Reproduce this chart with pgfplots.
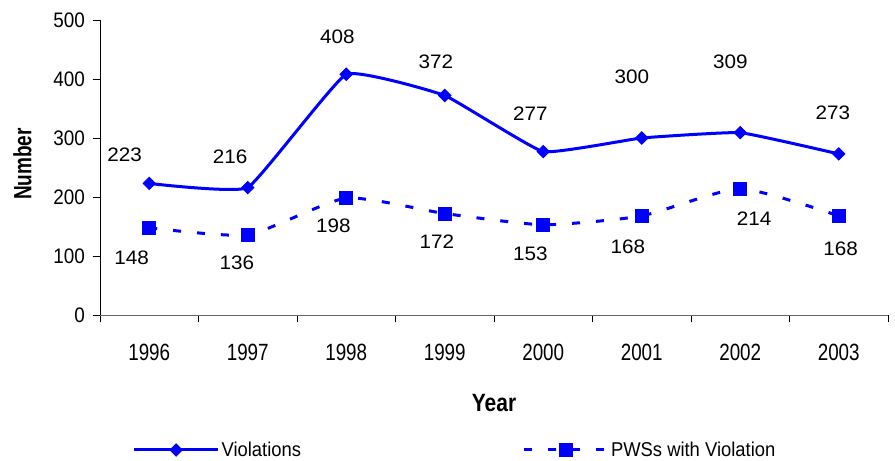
\documentclass[border=0pt]{standalone}
\usepackage{pgfplots}
\pgfplotsset{compat=1.18}
\usepackage{fontspec}
\setmainfont{Liberation Sans}
\newfontfamily\narrowx{Liberation Sans}[FakeStretch=0.8]
\newfontfamily\narrowy{Liberation Sans}[FakeStretch=0.9]
\newfontfamily\narrowl{Liberation Sans}[FakeStretch=0.92]
\newfontfamily\widel{Liberation Sans}[FakeStretch=1.06]
\newfontfamily\numlab{Liberation Sans}[FakeStretch=0.76]
\newfontfamily\yearlab{Liberation Sans}[FakeStretch=0.84]
\definecolor{xlblue}{RGB}{0,0,255}
\begin{document}
\begin{tikzpicture}
\begin{axis}[
  scale only axis, width=788pt, height=295pt,
  xmin=-0.5, xmax=7.5, ymin=0, ymax=500,
  clip=false,
  axis lines=left, axis line style={-, line width=0.8pt},
  x axis line style={draw=gray!80!black},
  /pgf/number format/assume math mode=true,
  ytick={0,100,...,500},
  xtick={-0.5,0.5,...,7.5}, xticklabels={},
  extra x ticks={0,1,2,3,4,5,6,7},
  extra x tick labels={1996,1997,1998,1999,2000,2001,2002,2003},
  extra x tick style={major tick length=0pt, xticklabel style={yshift=-26pt, font=\narrowx\fontsize{23.5}{23.5}\selectfont}},
  tick align=outside, major tick length=7.5pt,
  tick style={black, line width=0.8pt},
  yticklabel style={font=\narrowy\fontsize{21}{21}\selectfont, xshift=-4pt},
  xlabel={\yearlab\fontsize{25}{25}\selectfont\bfseries Year},
  ylabel={\numlab\fontsize{25}{25}\selectfont\bfseries Number},
  every axis y label/.style={at={(axis description cs:-0.0983,0.512)}, rotate=90, anchor=center},
  every axis x label/.style={at={(axis description cs:0.5,-0.30)}, anchor=center},
  legend style={at={(axis description cs:0.0411,-0.4576)}, anchor=west, draw=none, fill=none,
    legend columns=2, /tikz/every even column/.append style={column sep=219pt},
    font=\narrowl\fontsize{20}{20}\selectfont, inner sep=0pt},
  legend image code/.code={\draw[mark repeat=2,mark phase=2] plot coordinates {(0pt,0pt) (42pt,0pt) (84pt,0pt)};},
]
\addplot[xlblue, line width=3pt, smooth, tension=0.2, mark=square*, mark size=4.3pt, mark options={solid, rotate=45, line width=1pt}]
  coordinates {(0,223) (1,216) (2,408) (3,372) (4,277) (5,300) (6,309) (7,273)};
\addlegendentry{Violations}
\addplot[xlblue, line width=3pt, smooth, tension=0.35, dash pattern=on 8pt off 16pt, mark=square*, mark size=6.5pt, mark options={solid, line width=1pt}]
  coordinates {(0,148) (1,136) (2,198) (3,172) (4,153) (5,168) (6,214) (7,168)};
\addlegendentry{PWSs with Violation}
\begin{scope}[font=\widel\fontsize{19.5}{19.5}\selectfont]
\node at (axis cs:-0.25,271) {223};
\node at (axis cs:0.82,268) {216};
\node at (axis cs:1.91,471) {408};
\node at (axis cs:2.91,429) {372};
\node at (axis cs:3.87,342) {277};
\node at (axis cs:4.90,403) {300};
\node at (axis cs:5.90,429) {309};
\node at (axis cs:6.94,342) {273};
\node at (axis cs:-0.18,97) {148};
\node at (axis cs:0.89,88) {136};
\node at (axis cs:1.87,151) {198};
\node at (axis cs:2.92,125) {172};
\node at (axis cs:3.87,103) {153};
\node at (axis cs:4.86,115) {168};
\node at (axis cs:6.14,163) {214};
\node at (axis cs:7.02,112) {168};
\end{scope}
\path (rel axis cs:-0.1269,-0.4949) rectangle (rel axis cs:1.0089,1.0678);
\end{axis}
\end{tikzpicture}
\end{document}
